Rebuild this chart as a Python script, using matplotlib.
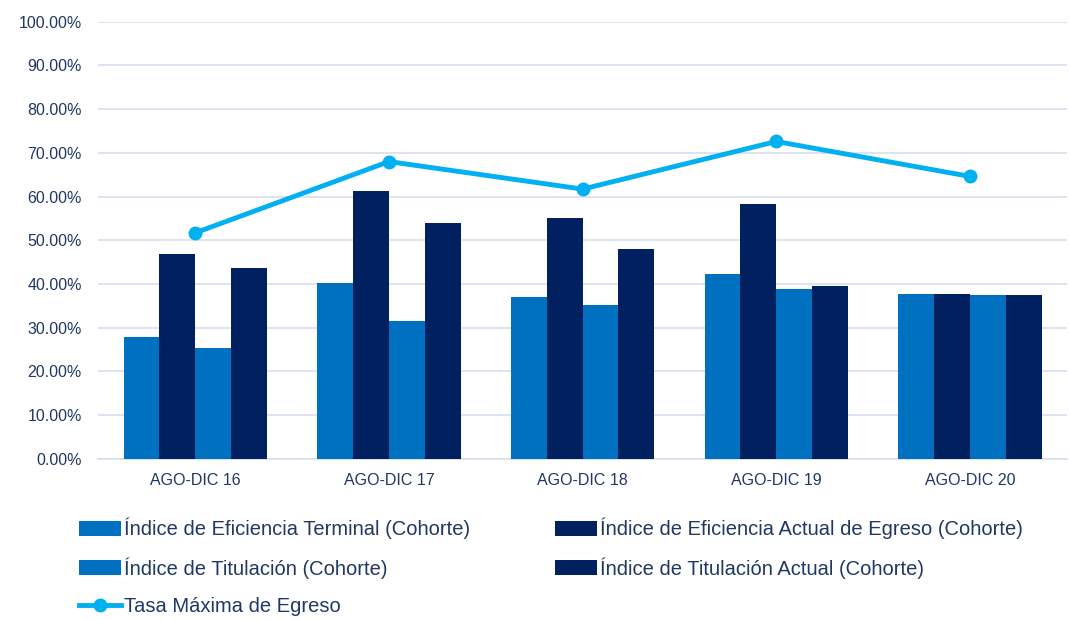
import numpy as np
import matplotlib
matplotlib.use("Agg")
import matplotlib.pyplot as plt
from matplotlib.ticker import PercentFormatter

plt.rcParams['font.family'] = ['Liberation Sans', 'DejaVu Sans']

# data
periodos = ["AGO-DIC 16", "AGO-DIC 17", "AGO-DIC 18", "AGO-DIC 19", "AGO-DIC 20"]
ef_terminal = [27.9, 40.3, 37.1, 42.2, 37.8]
ef_actual = [46.9, 61.3, 55.0, 58.4, 37.8]
titulacion = [25.4, 31.6, 35.2, 38.9, 37.4]
tit_actual = [43.7, 54.0, 48.0, 39.6, 37.4]
tasa_max = [51.7, 68.0, 61.7, 72.6, 64.6]

nombres = ["Índice de Eficiencia Terminal (Cohorte)",
           "Índice de Eficiencia Actual de Egreso (Cohorte)",
           "Índice de Titulación (Cohorte)",
           "Índice de Titulación Actual (Cohorte)",
           "Tasa Máxima de Egreso"]

azul = "#0070C0"
marino = "#002060"
celeste = "#00B0F0"
texto = "#1F3864"

fig = plt.figure(figsize=(10.7, 6.2), dpi=100)
ax = fig.add_axes([0.092, 0.26, 0.905, 0.705])

x = np.arange(len(periodos))
w = 0.185
series = [ef_terminal, ef_actual, titulacion, tit_actual]
cols = [azul, marino, azul, marino]
handles = []
for i, (vals, c) in enumerate(zip(series, cols)):
    b = ax.bar(x + (i - 1.5) * w, vals, w, color=c, label=nombres[i], zorder=3)
    handles.append(b)

ln, = ax.plot(x, tasa_max, color=celeste, lw=3.5, marker="o", ms=9,
              label=nombres[4], zorder=4)
handles.append(ln)

ax.set_xlim(-0.5, len(periodos) - 0.5)
ax.set_ylim(0, 100)
ax.set_yticks(np.arange(0, 101, 10))
ax.yaxis.set_major_formatter(PercentFormatter(decimals=2))
ax.set_xticks(x)
ax.set_xticklabels(periodos)
ax.tick_params(axis="both", length=0, labelsize=11.5, colors=texto)
ax.tick_params(axis="x", pad=10)
ax.tick_params(axis="y", pad=12)
ax.grid(axis="y", color="#D5DFF0", lw=1.2, zorder=0)
for s in ["top", "right", "left"]:
    ax.spines[s].set_visible(False)
ax.spines["bottom"].set_color("#D5DFF0")
ax.spines["bottom"].set_linewidth(1.2)

order = [0, 2, 4, 1, 3]
leg = fig.legend([handles[i] for i in order], [nombres[i] for i in order],
                 loc="lower left", bbox_to_anchor=(0.07, 0.0), ncol=2,
                 frameon=False, fontsize=14.5, handlelength=2.1,
                 handleheight=0.75, handletextpad=0.15, columnspacing=4.2,
                 labelspacing=0.9, borderpad=0.2, borderaxespad=0.0,
                 labelcolor=texto)

fig.savefig("out.png", dpi=100)
